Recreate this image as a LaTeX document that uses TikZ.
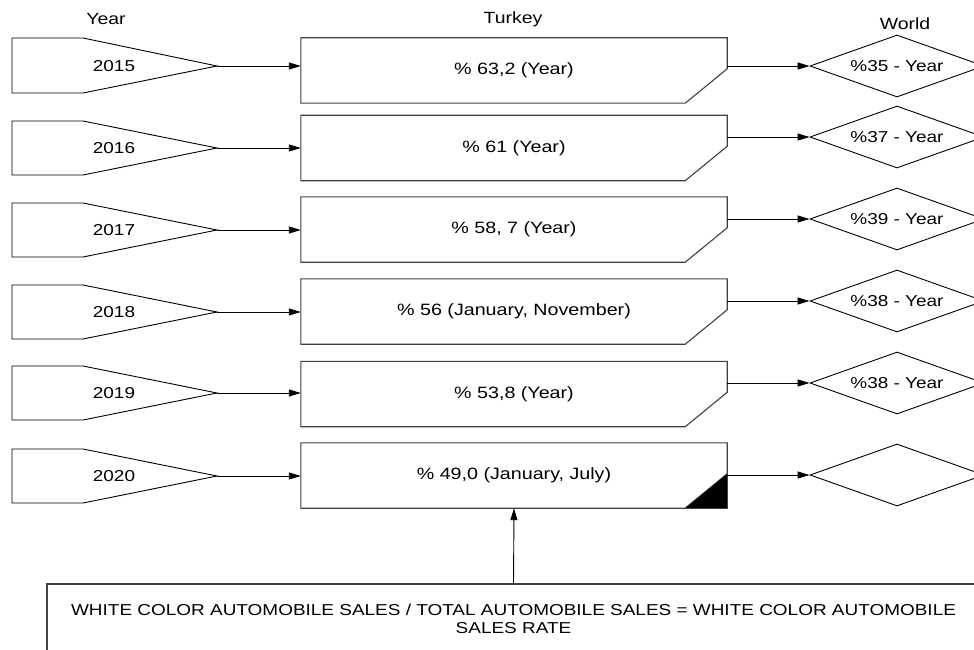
\documentclass[tikz,border=0pt]{standalone}
\usepackage{fontspec}
\setmainfont{Liberation Sans}[FakeStretch=1.2]
\usetikzlibrary{shapes}
\usetikzlibrary{positioning}
\usetikzlibrary{arrows.meta}
\tikzset{
    headlbl/.style = {inner sep=0pt,font=\fontsize{16.2}{19}\selectfont},
    yearlbl/.style = {inner sep=0pt},
    yearline/.style = {line width=0.9pt,black},
    ratebox/.style = {rectangle,minimum width=426pt,minimum height=65pt,inner sep=0pt,font=\fontsize{16.4}{19}\selectfont},
    rateline/.style = {line width=1.1pt,black!75},
    worldnode/.style = {diamond,aspect=2.8,draw=black,line width=0.9pt,minimum width=174pt,minimum height=62pt,inner sep=0pt},
    notebox/.style = {rectangle,draw=black!75,line width=1.1pt,minimum width=933pt,minimum height=70pt,text width=900pt,align=center,inner sep=0pt},
    edgen/.style = {-{Triangle[length=12pt,width=7pt]},line width=0.9pt,black}
}

\begin{document}
\begin{tikzpicture}[x=1pt,y=-1pt,font=\fontsize{15.8}{18.5}\selectfont]
\useasboundingbox (0,0) rectangle (974,650);
\node[headlbl] at (106, 19) (hyear) {Year};
\node[headlbl] at (513, 19) (hturkey) {Turkey};
\node[headlbl] at (905, 24) (hworld) {World};
%
\node[yearlbl] at (114, 66) (y1) {2015};
\node[yearlbl] at (114, 148) (y2) {2016};
\node[yearlbl] at (114, 230) (y3) {2017};
\node[yearlbl] at (114, 312) (y4) {2018};
\node[yearlbl] at (114, 393) (y5) {2019};
\node[yearlbl] at (114, 476) (y6) {2020};
\coordinate (t1) at (217, 66);
\coordinate (t2) at (217, 148);
\coordinate (t3) at (217, 230);
\coordinate (t4) at (217, 312);
\coordinate (t5) at (217, 393);
\coordinate (t6) at (217, 476);
\draw[yearline] (12, 38) -- (83, 38) -- (t1) -- (83, 93) -- (12, 93) -- cycle;
\draw[yearline] (12, 121) -- (83, 121) -- (t2) -- (83, 175) -- (12, 175) -- cycle;
\draw[yearline] (12, 203) -- (83, 203) -- (t3) -- (83, 257) -- (12, 257) -- cycle;
\draw[yearline] (12, 285) -- (83, 285) -- (t4) -- (83, 339) -- (12, 339) -- cycle;
\draw[yearline] (12, 366) -- (83, 366) -- (t5) -- (83, 420) -- (12, 420) -- cycle;
\draw[yearline] (12, 449) -- (83, 449) -- (t6) -- (83, 503) -- (12, 503) -- cycle;
%
\node[ratebox] at (514, 70.5) (r1) {\% 63,2 (Year)};
\node[ratebox] at (514, 148) (r2) {\% 61 (Year)};
\node[ratebox] at (514, 229.5) (r3) {\% 58, 7 (Year)};
\node[ratebox] at (514, 311.5) (r4) {\% 56 (January, November)};
\node[ratebox] at (514, 394) (r5) {\% 53,8 (Year)};
\node[ratebox] at (514, 475.5) (r6) {\% 49,0 (January, July)};
\foreach \r in {r1,r2,r3,r4,r5,r6}
  \draw[rateline] (\r.north west) -- (\r.north east) -- ([yshift=-31pt]\r.north east)
    -- ([xshift=-42pt]\r.south east) -- (\r.south west) -- cycle;
\fill[black] ([yshift=-31pt]r6.north east) -- (r6.south east) -- ([xshift=-42pt]r6.south east) -- cycle;
\draw[rateline] ([yshift=-31pt]r6.north east) -- (r6.south east) -- ([xshift=-42pt]r6.south east);
%
\node[worldnode] at (897, 66) (w1) {\%35 - Year};
\node[worldnode] at (897, 137) (w2) {\%37 - Year};
\node[worldnode] at (897, 219) (w3) {\%39 - Year};
\node[worldnode] at (897, 301) (w4) {\%38 - Year};
\node[worldnode] at (897, 383) (w5) {\%38 - Year};
\node[worldnode] at (897, 475) (w6) {};
%
\node[notebox] at (513.5, 619) (note) {WHITE COLOR AUTOMOBILE SALES / TOTAL AUTOMOBILE SALES = WHITE COLOR AUTOMOBILE\\SALES RATE};
%
\draw[edgen] (t1) -- (t1 -| r1.west);
\draw[edgen] (t2) -- (t2 -| r2.west);
\draw[edgen] (t3) -- (t3 -| r3.west);
\draw[edgen] (t4) -- (t4 -| r4.west);
\draw[edgen] (t5) -- (t5 -| r5.west);
\draw[edgen] (t6) -- (t6 -| r6.west);
\draw[edgen] (r1.east |- w1.west) -- (w1.west);
\draw[edgen] (r2.east |- w2.west) -- (w2.west);
\draw[edgen] (r3.east |- w3.west) -- (w3.west);
\draw[edgen] (r4.east |- w4.west) -- (w4.west);
\draw[edgen] (r5.east |- w5.west) -- (w5.west);
\draw[edgen] (r6.east |- w6.west) -- (w6.west);
\draw[edgen] (note.north) -- (r6.south);

\end{tikzpicture}
\end{document}
